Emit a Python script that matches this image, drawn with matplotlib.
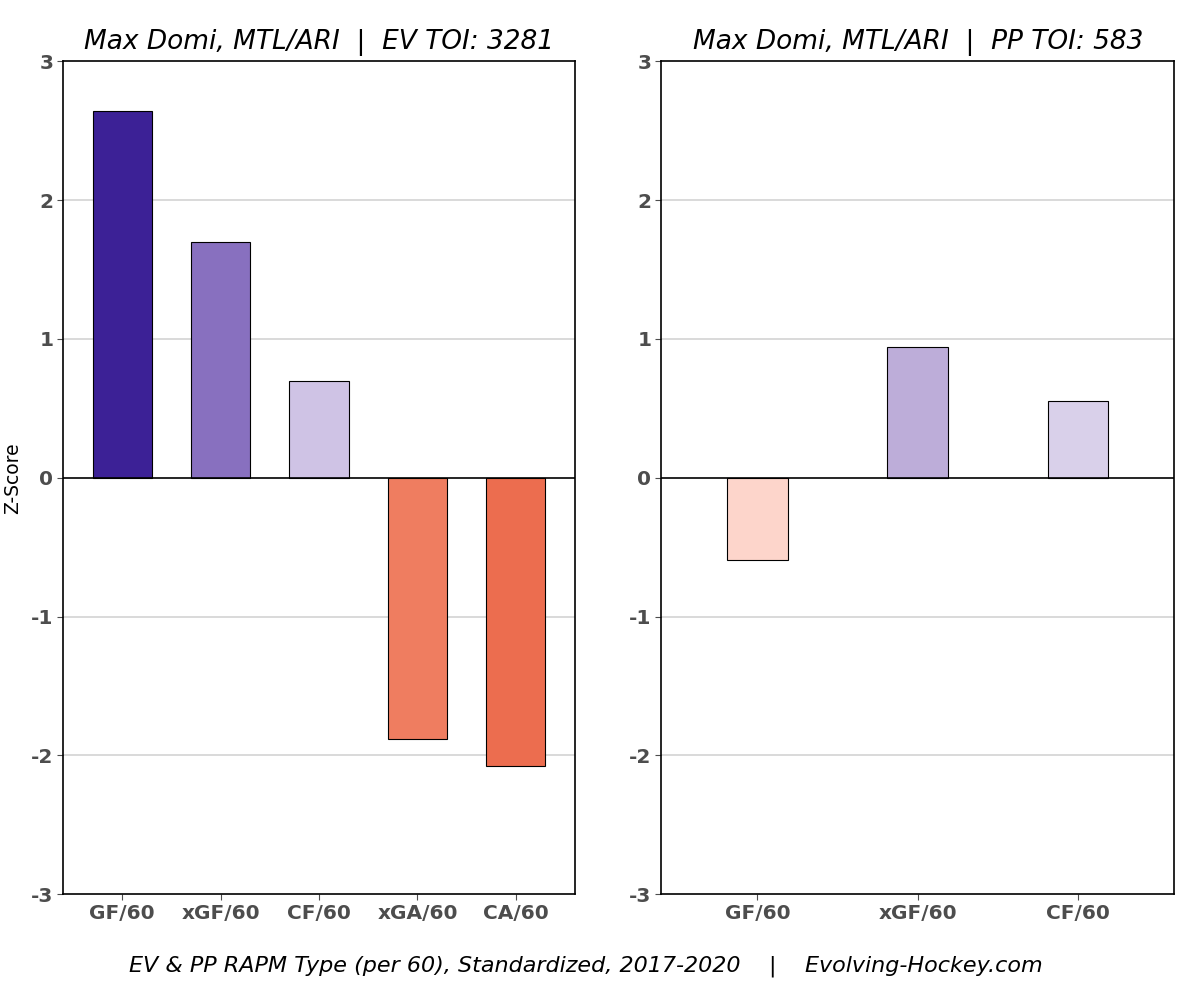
import matplotlib
matplotlib.use("Agg")
import matplotlib.pyplot as plt

plt.rcParams["axes.unicode_minus"] = False

# data
ev_labels = ["GF/60", "xGF/60", "CF/60", "xGA/60", "CA/60"]
ev_values = [2.64, 1.70, 0.70, -1.88, -2.08]
ev_colors = ["#3C2196", "#8870BF", "#CFC3E5", "#EF7D60", "#EC6D4F"]

pp_labels = ["GF/60", "xGF/60", "CF/60"]
pp_values = [-0.59, 0.94, 0.55]
pp_colors = ["#FDD5CB", "#BDADD9", "#D9D0EA"]

ev_title = "Max Domi, MTL/ARI  |  EV TOI: 3281"
pp_title = "Max Domi, MTL/ARI  |  PP TOI: 583"
caption = "EV & PP RAPM Type (per 60), Standardized, 2017-2020    |    Evolving-Hockey.com"
yticks = [-3, -2, -1, 0, 1, 2, 3]

fig = plt.figure(figsize=(12, 9.88), dpi=100)
ax1 = fig.add_axes([0.0525, 0.095, 0.4267, 0.843])
ax2 = fig.add_axes([0.551, 0.095, 0.4275, 0.843])


def draw(ax, labels, values, colors, width, title):
    x = list(range(len(labels)))
    for yv in yticks:
        if yv not in (0, -3, 3):
            ax.axhline(yv, color="#D0D0D0", lw=1.1, zorder=0)
    ax.bar(x, values, width=width, color=colors, edgecolor="black", linewidth=0.8, zorder=2)
    ax.axhline(0, color="black", lw=1.2, zorder=3)
    ax.set_ylim(-3, 3)
    ax.set_xlim(-0.6, len(labels) - 0.4)
    ax.set_xticks(x)
    ax.set_xticklabels(labels)
    ax.set_yticks(yticks)
    ax.tick_params(axis="both", labelsize=14.5, colors="#4D4D4D", length=4, width=0.8, pad=3)
    for lab in ax.get_xticklabels() + ax.get_yticklabels():
        lab.set_fontweight("bold")
    for s in ax.spines.values():
        s.set_color("black")
        s.set_linewidth(1.2)
    ax.set_title(title, fontsize=19, style="italic", pad=9)


draw(ax1, ev_labels, ev_values, ev_colors, 0.6, ev_title)
draw(ax2, pp_labels, pp_values, pp_colors, 0.38, pp_title)
ax1.set_ylabel("Z-Score", fontsize=13.5, labelpad=6)

fig.text(0.488, 0.011, caption, ha="center", va="bottom", fontsize=16, style="italic")

fig.savefig("out.png", dpi=100)
